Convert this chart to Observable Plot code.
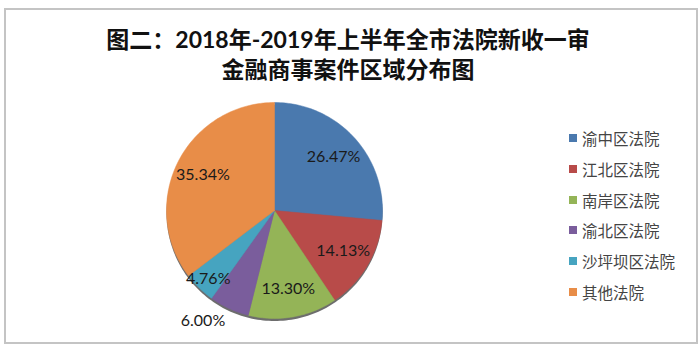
<!DOCTYPE html>
<html><head><meta charset="utf-8">
<script src="https://cdn.jsdelivr.net/npm/d3@7"></script>
<script src="https://cdn.jsdelivr.net/npm/@observablehq/plot@0.6"></script>
<style>
html,body{margin:0;padding:0;background:#fff;}
#page{position:relative;width:700px;height:352px;overflow:hidden;background:#fff;}
#frame{position:absolute;left:4px;top:8px;width:690px;height:332px;border:2px solid #c4c4c4;box-sizing:content-box;}
#title{position:absolute;left:0;width:696px;top:24px;text-align:center;font-family:Lato,"Noto Sans CJK SC",sans-serif;font-weight:700;font-size:23px;line-height:30px;color:#111;}
#chart{position:absolute;left:0;top:0;}
#legend{position:absolute;left:569px;top:123px;font-family:"Noto Sans CJK SC",sans-serif;font-size:15.5px;color:#444;}
.row{height:30.7px;display:flex;align-items:center;}
.sw{width:8px;height:8px;margin-right:5px;}
</style></head>
<body>
<div id="page">
  <div id="frame"></div>
  <div id="chart"></div>
  <div id="title"></div>
  <div id="legend"></div>
</div>
<script>
const titleLines = ["图二：2018年-2019年上半年全市法院新收一审", "金融商事案件区域分布图"];
const courts = ["渝中区法院", "江北区法院", "南岸区法院", "渝北区法院", "沙坪坝区法院", "其他法院"];
const shares = [26.47, 14.13, 13.30, 6.00, 4.76, 35.34];
const labels = ["26.47%", "14.13%", "13.30%", "6.00%", "4.76%", "35.34%"];
const colors = ["#4a79ae", "#b84b49", "#94b457", "#7a5d9c", "#46a4c0", "#e88d48"];

document.getElementById("title").innerHTML = titleLines.map(t => `<div>${t}</div>`).join("");

// pie geometry from the data
const total = d3.sum(shares);
const arcs = d3.pie().sort(null).value(d => d)(shares);
const slices = [];
arcs.forEach((a, i) => {
  const n = Math.max(2, Math.ceil((a.endAngle - a.startAngle) / (2 * Math.PI) * 240));
  slices.push({court: courts[i], x: 0, y: 0});
  for (let k = 0; k <= n; k++) {
    const t = a.startAngle + (a.endAngle - a.startAngle) * k / n;
    slices.push({court: courts[i], x: Math.sin(t), y: Math.cos(t)});
  }
  slices.push({court: courts[i], x: 0, y: 0});
});
const outline = d3.range(0, 241).map(k => {
  const t = 2 * Math.PI * k / 240;
  return {x: Math.sin(t), y: Math.cos(t)};
});
const labelPts = arcs.map((a, i) => {
  const frac = shares[i] / total;
  const mid = (a.startAngle + a.endAngle) / 2;
  const r = frac < 0.055 ? 0.88 : (frac < 0.065 ? 1.22 : 0.74);
  const m = frac < 0.065 && frac >= 0.055 ? mid + 0.14 : mid;
  return {label: labels[i], x: r * Math.sin(m), y: r * Math.cos(m)};
});

const plot = Plot.plot({
  width: 700, height: 352,
  marginLeft: 166, marginRight: 700 - 382, marginTop: 102, marginBottom: 352 - 318,
  x: {domain: [-1, 1], axis: null},
  y: {domain: [-1, 1], axis: null},
  color: {domain: courts, range: colors},
  style: {background: "transparent", overflow: "visible"},
  marks: [
    Plot.line(outline, {x: "x", y: "y", fill: "#3c3c3c", fillOpacity: 0.75, stroke: "none", dy: 2.5}),
    Plot.line(slices, {x: "x", y: "y", z: "court", fill: "court", stroke: "court", strokeWidth: 0.5}),
    Plot.text(labelPts, {x: "x", y: "y", text: "label", fontSize: 16, fontFamily: "Lato, sans-serif", fill: "#1a1a1a"})
  ]
});
document.getElementById("chart").appendChild(plot);

document.getElementById("legend").innerHTML = courts.map((c, i) =>
  `<div class="row"><div class="sw" style="background:${colors[i]}"></div><span>${c}</span></div>`).join("");
</script>
</body></html>
